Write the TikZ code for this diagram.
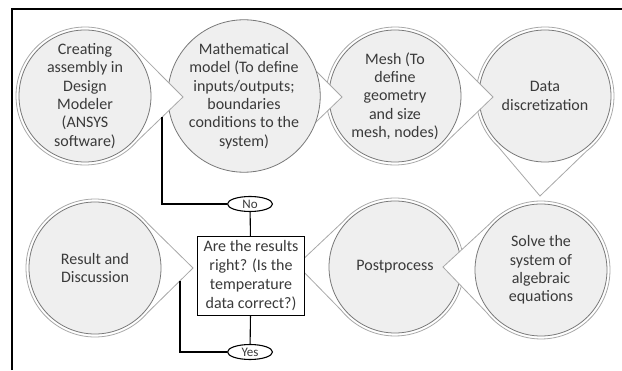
\documentclass[tikz,border=0pt]{standalone}
\usepackage{fontspec}
\setmainfont{Carlito}
\usetikzlibrary{calc,shapes.geometric}
\definecolor{txt}{HTML}{3A3A3A}
\definecolor{cfill}{HTML}{EFEFEF}
\definecolor{cout}{HTML}{A8A8A8}
\definecolor{cin}{HTML}{787878}
\tikzset{
  outerline/.style={draw=cout, line width=0.8pt, fill=white},
  circ/.style={circle, draw=cin, line width=0.8pt, fill=cfill, minimum size=132pt, inner sep=0pt, align=center, text=txt, font=\fontsize{16}{18.3}\selectfont},
  decbox/.style={rectangle, draw=black, line width=1.3pt, fill=white, minimum width=107pt, minimum height=79pt, inner sep=2pt, align=center, text=txt, font=\fontsize{16}{19}\selectfont},
  answer/.style={ellipse, draw=black, line width=1.1pt, fill=white, minimum width=45pt, minimum height=15pt, inner sep=0pt, text=txt, font=\fontsize{13}{14}\selectfont},
  conn/.style={draw=black, line width=1.1pt},
  frameline/.style={draw=black, line width=2pt}
}
\newcommand\callshape[3]{%
  \draw[outerline] let \p1=($(#2)-(#1)$), \n1={atan2(\y1,\x1)} in
    ($(#1)+(\n1+#3:69pt)$) -- (#2) -- ($(#1)+(\n1-#3:69pt)$)
    arc[start angle=\n1-#3, end angle=\n1+#3-360, radius=69pt] -- cycle;}
\begin{document}
\begin{tikzpicture}[x=1pt,y=1pt]
\useasboundingbox (0,0) rectangle (622,370);
% frame
\draw[frameline] (12,0) -- (12,361) -- (622,361);
% centres and tips
\coordinate (p1) at (85,274);  \coordinate (t1) at (183,273);
\coordinate (p2) at (244,274); \coordinate (t2) at (342,273);
\coordinate (p3) at (395,274); \coordinate (t3) at (493,273);
\coordinate (p4) at (545,274); \coordinate (t4) at (540,174);
\coordinate (p5) at (541,100); \coordinate (t5) at (443,103);
\coordinate (p6) at (395,103); \coordinate (t6) at (297,105);
\coordinate (p7) at (95,102);  \coordinate (t7) at (193,102);
% top row (drawn right to left)
\callshape{p4}{t4}{40}
\node[circ] (c4) at (p4) {Data\\discretization};
\callshape{p3}{t3}{40}
\node[circ] (c3) at (p3) {Mesh (To\\define\\geometry\\and size\\mesh, nodes)};
\callshape{p2}{t2}{40}
\node[circ] (c2) at (p2) {Mathematical\\model (To define\\inputs/outputs;\\boundaries\\conditions to the\\system)};
\callshape{p1}{t1}{40}
\node[circ] (c1) at (p1) {Creating\\assembly in\\Design\\Modeler\\(ANSYS\\software)};
% bottom row
\callshape{p6}{t6}{40}
\node[circ] (c6) at (p6) {Postprocess};
\callshape{p5}{t5}{40}
\node[circ] (c5) at (p5) {Solve the\\system of\\algebraic\\equations};
\callshape{p7}{t7}{40}
\node[circ] (c7) at (p7) {Result and\\Discussion};
% decision
\node[decbox] (dec) at (251,94) {Are the results\\right? (Is the\\temperature\\data correct?)};
\node[answer] (no) at (250,166) {No};
\node[answer] (yes) at (250,18) {Yes};
\coordinate (j1) at (162,252.8);
\coordinate (j2) at (180,89.2);
\draw[conn] (no) -- (dec);
\draw[conn] (yes) -- (dec);
\draw[conn] (no.west) -| (j1);
\draw[conn] (yes.west) -| (j2);
\end{tikzpicture}
\end{document}
